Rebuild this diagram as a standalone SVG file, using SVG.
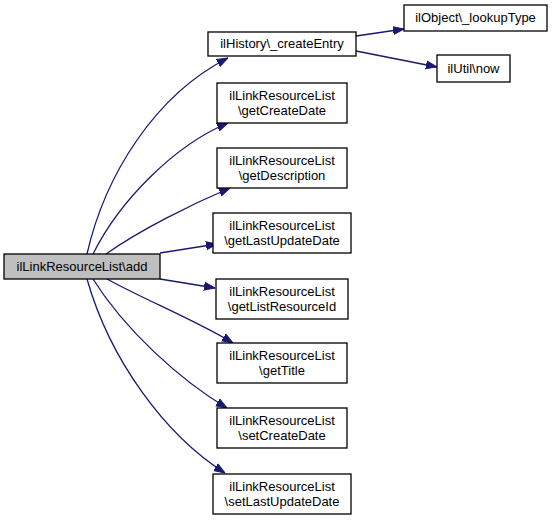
<svg xmlns="http://www.w3.org/2000/svg" width="553" height="521" viewBox="0 0 553 521">
<style>
.n rect{fill:#fff;stroke:#000;stroke-width:1.3}
.n text{font-family:"Liberation Sans",Arial,sans-serif;font-size:13px;text-anchor:middle;fill:#000}
.e path{fill:none;stroke:#191970;stroke-width:1.3}
</style>
<defs>
<marker id="a" viewBox="0 0 11 10" refX="11" refY="5" markerWidth="11" markerHeight="10" markerUnits="userSpaceOnUse" orient="auto">
<path d="M0,1 L11,5 L0,9 Z" fill="#191970" stroke="#191970"/>
</marker>
</defs>
<rect width="553" height="521" fill="#fff"/>
<g class="e">
<path d="M87,254 C105,175 155,95 228,58" marker-end="url(#a)"/>
<path d="M93,254 C120,200 175,145 228,123" marker-end="url(#a)"/>
<path d="M106,254 C140,230 190,205 230,188" marker-end="url(#a)"/>
<path d="M160,253 L217,244" marker-end="url(#a)"/>
<path d="M160,279 L215,288" marker-end="url(#a)"/>
<path d="M107,279 C145,300 195,320 233,343" marker-end="url(#a)"/>
<path d="M93,279 C125,330 180,380 227,408" marker-end="url(#a)"/>
<path d="M87,279 C110,360 165,435 225,473" marker-end="url(#a)"/>
<path d="M356,36 L404,29" marker-end="url(#a)"/>
<path d="M356,51 L437,67" marker-end="url(#a)"/>
</g>
<g id="root" class="n"><rect x="4" y="254" width="156" height="25" style="fill:#bfbfbf"/><text x="82" y="271">ilLinkResourceList\add</text></g>
<g id="createEntry" class="n"><rect x="208" y="32" width="148" height="24"/><text x="282" y="48">ilHistory\_createEntry</text></g>
<g id="lookupType" class="n"><rect x="404" y="5" width="143" height="26"/><text x="475.5" y="22">ilObject\_lookupType</text></g>
<g id="now" class="n"><rect x="437" y="55" width="73" height="27"/><text x="473.5" y="73">ilUtil\now</text></g>
<g id="getCreateDate" class="n"><rect x="217" y="83" width="130" height="40"/><text x="282" y="100">ilLinkResourceList</text><text x="282" y="115">\getCreateDate</text></g>
<g id="getDescription" class="n"><rect x="217" y="148" width="130" height="40"/><text x="282" y="165">ilLinkResourceList</text><text x="282" y="180">\getDescription</text></g>
<g id="getLastUpdateDate" class="n"><rect x="213" y="213" width="138" height="40"/><text x="282" y="230">ilLinkResourceList</text><text x="282" y="245">\getLastUpdateDate</text></g>
<g id="getListResourceId" class="n"><rect x="216" y="279" width="132" height="40"/><text x="282" y="296">ilLinkResourceList</text><text x="282" y="311">\getListResourceId</text></g>
<g id="getTitle" class="n"><rect x="217" y="343" width="130" height="40"/><text x="282" y="360">ilLinkResourceList</text><text x="282" y="375">\getTitle</text></g>
<g id="setCreateDate" class="n"><rect x="217" y="408" width="130" height="40"/><text x="282" y="425">ilLinkResourceList</text><text x="282" y="440">\setCreateDate</text></g>
<g id="setLastUpdateDate" class="n"><rect x="213" y="474" width="138" height="40"/><text x="282" y="491">ilLinkResourceList</text><text x="282" y="506">\setLastUpdateDate</text></g>
</svg>
